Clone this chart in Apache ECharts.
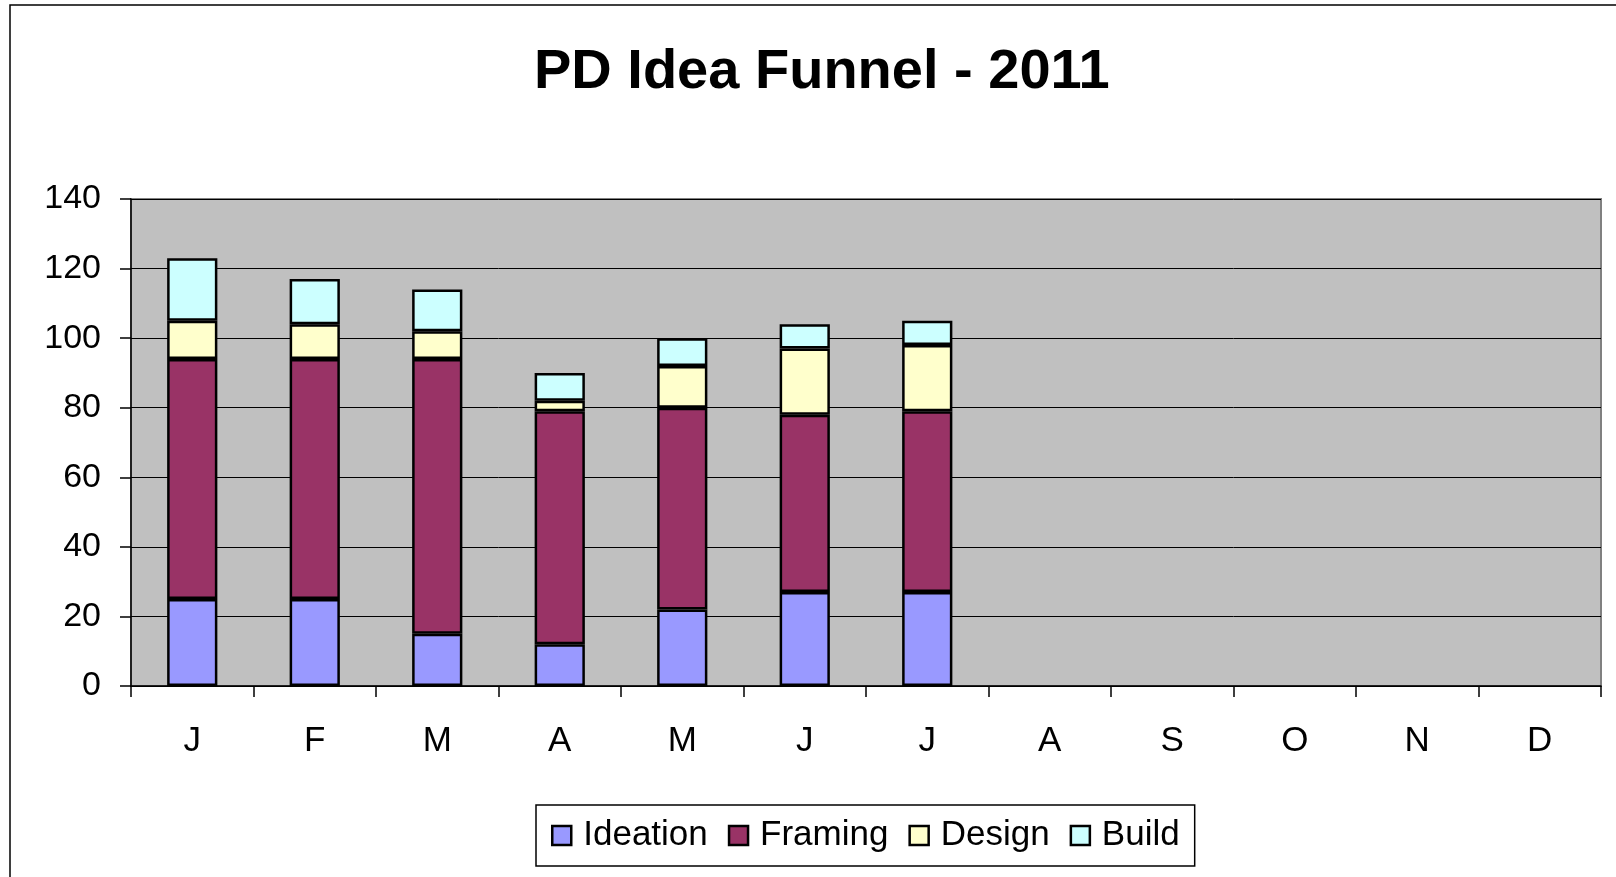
<!DOCTYPE html>
<html>
<head>
<meta charset="utf-8">
<title>PD Idea Funnel - 2011</title>
<script src="https://cdn.jsdelivr.net/npm/echarts@6/dist/echarts.min.js"></script>
<style>
  html, body { margin: 0; padding: 0; background: #fff; }
  #chart { width: 1616px; height: 877px; }
</style>
</head>
<body>
<div id="chart"></div>
<script>
// données
var months = ['J', 'F', 'M', 'A', 'M', 'J', 'J', 'A', 'S', 'O', 'N', 'D'];
var ideation = [25, 25, 15, 12, 22, 27, 27];
var framing = [69, 69, 79, 67, 58, 51, 52];
var design = [11, 10, 8, 3, 12, 19, 19];
var build = [18, 13, 12, 8, 8, 7, 7];
var yTicks = [0, 20, 40, 60, 80, 100, 120, 140];

var fontFamily = '"Liberation Sans", Arial, sans-serif';

function barSerie(name, data, color) {
  return {
    name: name,
    type: 'bar',
    stack: 'funnel',
    barWidth: '41%',
    data: data,
    itemStyle: {
      color: color,
      borderColor: '#000',
      borderWidth: 2.5
    }
  };
}

var funnel = echarts.init(document.getElementById('chart'), null, {renderer: 'canvas'});
var funnelOption = {
  animation: false,
  textStyle: {fontFamily: fontFamily},
  title: {
    text: 'PD Idea Funnel - 2011',
    left: 529,
    top: 40,
    textStyle: {
      fontFamily: fontFamily,
      fontSize: 56,
      fontWeight: 'bold',
      color: '#000'
    }
  },
  graphic: [{
    type: 'rect',
    shape: {x: 10, y: 5, width: 1700, height: 1000},
    style: {fill: 'none', stroke: '#000', lineWidth: 1.5},
    silent: true
  }],
  legend: {
    left: 536,
    top: 805,
    itemWidth: 19,
    itemHeight: 19,
    itemGap: 20,
    padding: [13, 15, 13, 15],
    borderColor: '#000',
    borderWidth: 1.5,
    icon: 'rect',
    itemStyle: {borderColor: '#000', borderWidth: 2.5},
    textStyle: {
      fontFamily: fontFamily,
      fontSize: 35,
      color: '#000',
      padding: [0, 0, 0, 7]
    },
    data: ['Ideation', 'Framing', 'Design', 'Build']
  },
  grid: {
    left: 131,
    right: 15,
    top: 199,
    bottom: 191,
    show: true,
    backgroundColor: '#C0C0C0',
    borderColor: '#808080',
    borderWidth: 2
  },
  xAxis: {
    type: 'category',
    data: months,
    boundaryGap: true,
    axisLine: {show: true, lineStyle: {color: '#000', width: 1.5}},
    axisTick: {show: true, length: 11, interval: 0, lineStyle: {color: '#000', width: 1.5}},
    axisLabel: {
      interval: 0,
      margin: 38,
      fontSize: 35,
      color: '#000',
      fontFamily: fontFamily
    }
  },
  yAxis: {
    type: 'value',
    min: yTicks[0],
    max: yTicks[yTicks.length - 1],
    interval: 20,
    axisLine: {show: true, lineStyle: {color: '#000', width: 1.5}},
    axisTick: {show: true, length: 11, lineStyle: {color: '#000', width: 1.5}},
    splitLine: {show: true, lineStyle: {color: '#000', width: 1}},
    axisLabel: {
      margin: 30,
      fontSize: 34,
      color: '#000',
      fontFamily: fontFamily
    }
  },
  series: [
    barSerie('Ideation', ideation, '#9999FF'),
    barSerie('Framing', framing, '#993366'),
    barSerie('Design', design, '#FFFFCC'),
    barSerie('Build', build, '#CCFFFF')
  ]
};

funnelOption && funnel.setOption(funnelOption);
</script>
</body>
</html>
